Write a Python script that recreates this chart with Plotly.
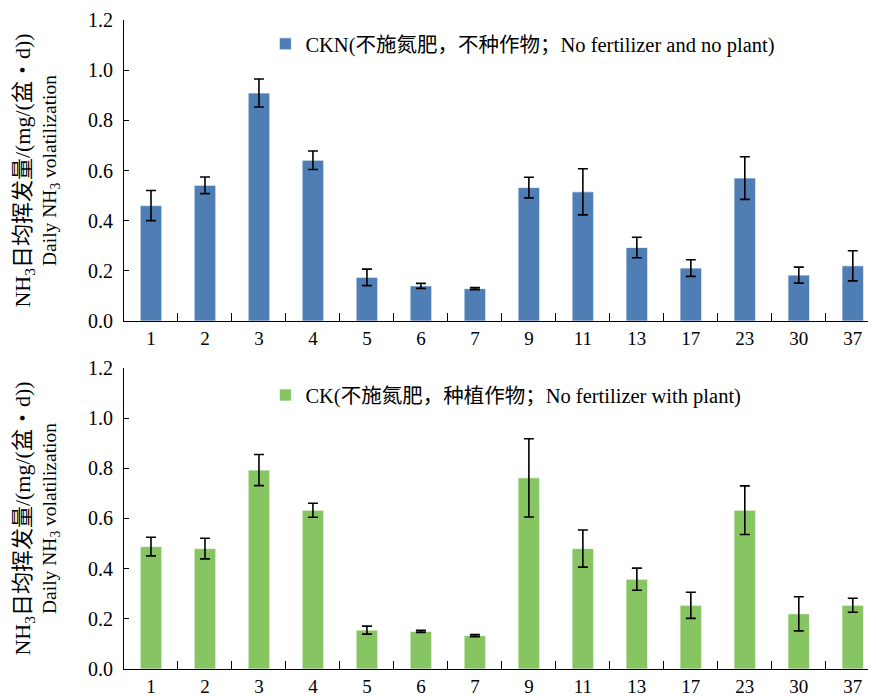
import plotly.graph_objects as go

days = ["1", "2", "3", "4", "5", "6", "7", "9", "11", "13", "17", "23", "30", "37"]
ckn_mean = [0.46, 0.541, 0.909, 0.641, 0.174, 0.140, 0.129, 0.532, 0.515, 0.293, 0.211, 0.570, 0.183, 0.220]
ckn_err = [0.060, 0.033, 0.056, 0.037, 0.033, 0.010, 0.004, 0.041, 0.092, 0.041, 0.033, 0.085, 0.032, 0.060]
ck_mean = [0.488, 0.480, 0.793, 0.633, 0.155, 0.150, 0.133, 0.762, 0.480, 0.358, 0.254, 0.633, 0.220, 0.254]
ck_err = [0.037, 0.041, 0.062, 0.028, 0.016, 0.004, 0.004, 0.156, 0.074, 0.044, 0.052, 0.097, 0.068, 0.028]

ckn_name = "CKN(不施氮肥，不种作物；No fertilizer and no plant)"
ck_name = "CK(不施氮肥，种植作物；No fertilizer with plant)"
ytitle = ("<span style='font-size:22px'>NH<sub>3</sub>日均挥发量/(mg/(盆・d))</span><br>"
          "Daily NH<sub>3</sub> volatilization")

FONT = "'Liberation Serif', 'Noto Sans CJK SC'"

fig = go.Figure()
fig.add_trace(go.Bar(
    x=days, y=ckn_mean, name=ckn_name, width=0.4,
    marker=dict(color="#4F7EB5", line=dict(color="rgba(255,255,255,0.7)", width=1)),
    error_y=dict(type="data", array=ckn_err, color="black", thickness=1.6, width=5),
    xaxis="x", yaxis="y", legend="legend",
))
fig.add_trace(go.Bar(
    x=days, y=ck_mean, name=ck_name, width=0.4,
    marker=dict(color="#86C561", line=dict(color="rgba(255,255,255,0.7)", width=1)),
    error_y=dict(type="data", array=ck_err, color="black", thickness=1.6, width=5),
    xaxis="x2", yaxis="y2", legend="legend2",
))

xax = dict(
    type="category", range=[-0.5, 13.43], tickson="boundaries",
    ticks="inside", ticklen=8, tickcolor="black", tickwidth=1,
    showline=True, linecolor="black", linewidth=1.2,
    showgrid=False, zeroline=False,
    tickfont=dict(family=FONT, size=19, color="black"),
)
yax = dict(
    range=[0, 1.2], dtick=0.2, tickformat=".1f",
    ticks="inside", ticklen=5, tickcolor="black", tickwidth=1,
    showline=True, linecolor="black", linewidth=1.2,
    showgrid=False, zeroline=False, ticklabelstandoff=6,
    tickfont=dict(family=FONT, size=20, color="black"),
    title=dict(text=ytitle, font=dict(family=FONT, size=19.5, color="black"), standoff=26),
)

fig.update_layout(
    width=868, height=688,
    margin=dict(l=116, r=0, t=12, b=27),
    plot_bgcolor="white", paper_bgcolor="white",
    font=dict(family=FONT, color="black"),
    xaxis=dict(xax, domain=[0, 1], anchor="y"),
    yaxis=dict(yax, domain=[0.5362, 1.0], anchor="x"),
    xaxis2=dict(xax, domain=[0, 1], anchor="y2"),
    yaxis2=dict(yax, domain=[0.0, 0.4638], anchor="x2"),
    legend=dict(x=0.188, y=0.963, xanchor="left", yanchor="middle",
                bgcolor="rgba(0,0,0,0)", font=dict(family=FONT, size=20.5, color="black")),
    legend2=dict(x=0.188, y=0.422, xanchor="left", yanchor="middle",
                 bgcolor="rgba(0,0,0,0)", font=dict(family=FONT, size=20.5, color="black")),
    showlegend=True,
)

fig.write_html("out.html")
